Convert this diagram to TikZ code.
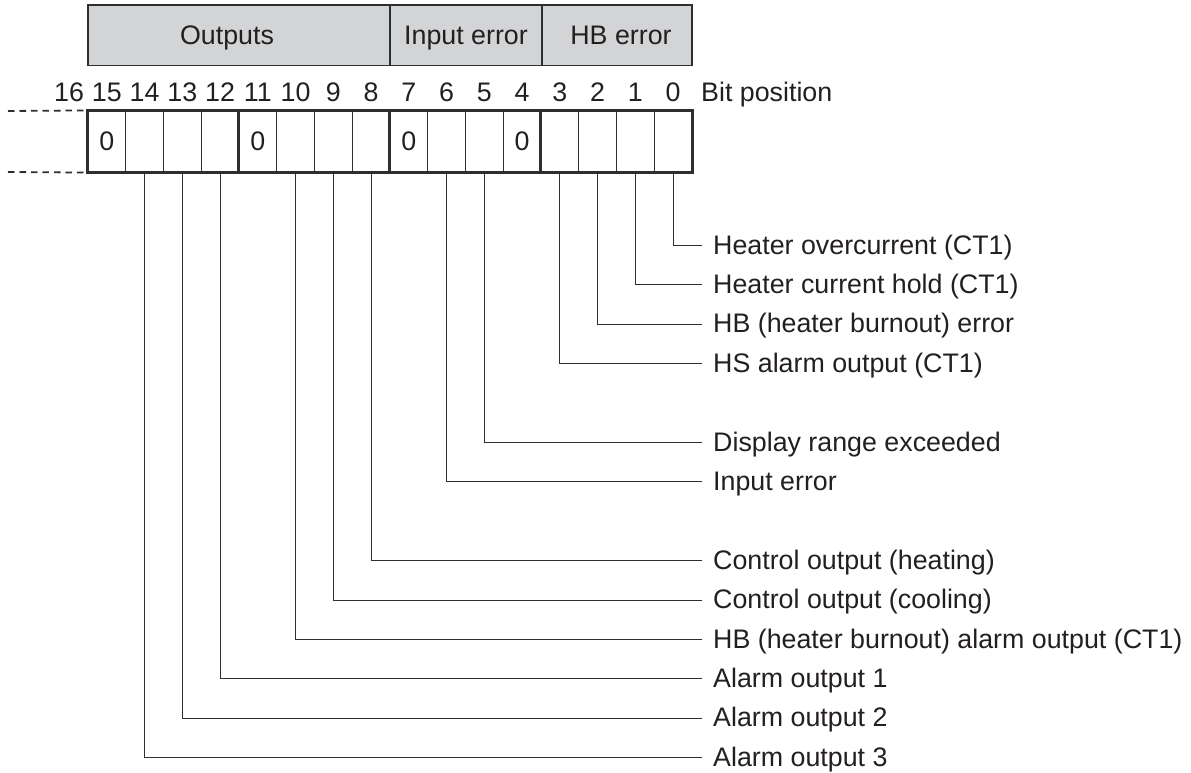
\documentclass[tikz,border=0pt]{standalone}
\usepackage{fontspec}
\setmainfont{Liberation Sans}
\definecolor{ln}{HTML}{2E2E2E}
\definecolor{hdr}{HTML}{D3D4D6}
\definecolor{txt}{HTML}{231F20}
\begin{document}
\begin{tikzpicture}[x=1pt,y=-1pt,
  every node/.style={font=\fontsize{26.8}{32}\selectfont, text=txt},
  cell/.style={draw=ln, line width=1.1pt, minimum width=37.75pt, minimum height=61pt, inner sep=0pt},
  hdrbox/.style={draw=ln, line width=1.3pt, fill=hdr, minimum height=60.7pt, inner sep=0pt, text height=19.2pt, text depth=0pt},
  lbl/.style={anchor=west, inner xsep=11pt, inner ysep=0pt, text height=19.2pt, text depth=2pt},
  bitnum/.style={inner sep=0pt},
  wire/.style={draw=ln, line width=1.1pt},
  thickb/.style={draw=ln, line width=2.4pt},
  dashline/.style={draw=ln, line width=1.8pt, dash pattern=on 6.5pt off 5pt}]
\useasboundingbox (0,0) rectangle (1191,773);

% header
\node[hdrbox, minimum width=302pt] (hout) at (239,35.35) {\hspace*{-24pt}Outputs};
\node[hdrbox, minimum width=152pt] (hin) at (466,35.35) {Input error};
\node[hdrbox, minimum width=150pt] (hhb) at (617,35.35) {\hspace*{8pt}HB error};

% bit numbers
\foreach \b in {0,...,16}
  \node[bitnum] (n\b) at ({106.875+37.75*(15-\b)},92.5) {\b};
\node[anchor=base west, inner sep=0pt] (bitpos) at (701,101.7) {Bit position};

% cells
\foreach \b in {0,...,15}
  \node[cell] (c\b) at ({106.875+37.75*(15-\b)},141.5) {};
\foreach \b in {15,11,7,4}
  \node[inner sep=0pt] (z\b) at (c\b) {0};

% thick borders
\draw[thickb] (c15.north west) rectangle (c0.south east);
\foreach \b in {11,7,3}
  \draw[thickb] (c\b.north west) -- (c\b.south west);

% dashed continuation
\coordinate (dt) at (8,111);
\coordinate (db) at (8,172);
\draw[dashline] (dt) -- (c15.north west);
\draw[dashline] (db) -- (c15.south west);

% labels and connectors
\foreach \b/\y/\t in {
  0/245.5/{Heater overcurrent (CT1)},
  1/284.9/{Heater current hold (CT1)},
  2/324.3/{HB (heater burnout) error},
  3/363.7/{HS alarm output (CT1)},
  5/442.5/{Display range exceeded},
  6/481.9/{Input error},
  8/560.7/{Control output (heating)},
  9/600.1/{Control output (cooling)},
  10/639.5/{HB (heater burnout) alarm output (CT1)},
  12/678.9/{Alarm output 1},
  13/718.3/{Alarm output 2},
  14/757.7/{Alarm output 3}}
{
  \node[lbl] (l\b) at (702,\y) {\t};
  \draw[wire] (c\b.south) |- (l\b.west);
}
\end{tikzpicture}
\end{document}
